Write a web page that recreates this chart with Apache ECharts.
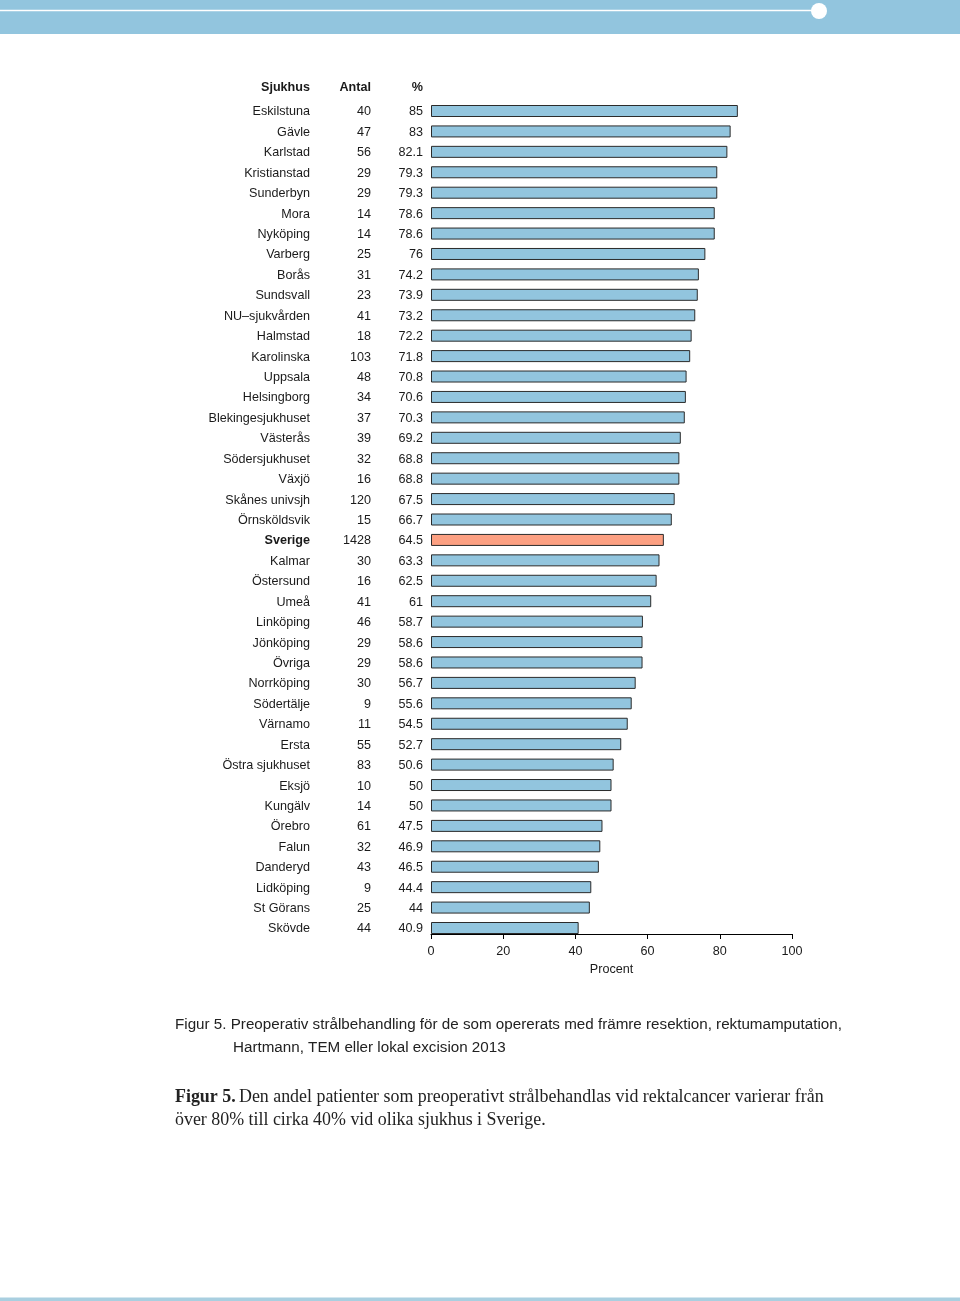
<!DOCTYPE html>
<html>
<head>
<meta charset="utf-8">
<script src="https://cdn.jsdelivr.net/npm/echarts@6/dist/echarts.min.js"></script>
<style>
html,body{margin:0;padding:0;background:#fff;}
#c{width:960px;height:1301px;}
</style>
</head>
<body>
<div id="c"></div>
<script>
const hospitals = ["Eskilstuna","Gävle","Karlstad","Kristianstad","Sunderbyn","Mora","Nyköping","Varberg","Borås","Sundsvall","NU–sjukvården","Halmstad","Karolinska","Uppsala","Helsingborg","Blekingesjukhuset","Västerås","Södersjukhuset","Växjö","Skånes univsjh","Örnsköldsvik","Sverige","Kalmar","Östersund","Umeå","Linköping","Jönköping","Övriga","Norrköping","Södertälje","Värnamo","Ersta","Östra sjukhuset","Eksjö","Kungälv","Örebro","Falun","Danderyd","Lidköping","St Görans","Skövde"];
const antal = [40,47,56,29,29,14,14,25,31,23,41,18,103,48,34,37,39,32,16,120,15,1428,30,16,41,46,29,29,30,9,11,55,83,10,14,61,32,43,9,25,44];
const percent = [85,83,82.1,79.3,79.3,78.6,78.6,76,74.2,73.9,73.2,72.2,71.8,70.8,70.6,70.3,69.2,68.8,68.8,67.5,66.7,64.5,63.3,62.5,61,58.7,58.6,58.6,56.7,55.6,54.5,52.7,50.6,50,50,47.5,46.9,46.5,44.4,44,40.9];
const percentLabels = percent.map(v => String(v));
const xTicks = [0,20,40,60,80,100];
const highlight = "Sverige";

const chart = echarts.init(document.getElementById('c'), null, {renderer:'canvas'});
const FONT = "'Liberation Sans', Arial, sans-serif";
const TXT = '#1a1a1a';
const N = hospitals.length;
const band = (928 - 111) / (N - 1);
const gridTop = 111 - band/2;
const FS = 12.6;

function catAxis(data, margin, boldName){
  return {
    type:'category', data: data, inverse:true, position:'left',
    axisLine:{show:false}, axisTick:{show:false},
    axisLabel:{
      margin: margin, color: TXT, fontFamily: FONT, fontSize: FS, align:'right', interval:0,
      padding:[2,0,0,0],
      formatter: function(v, i){ return (boldName && hospitals[i] === highlight) ? '{b|' + v + '}' : v; },
      rich:{ b:{fontWeight:'bold', fontFamily: FONT, fontSize:FS, color: TXT} }
    }
  };
}

const option = {
  animation:false,
  backgroundColor:'#ffffff',
  grid:{left:431, right:168, top:gridTop, height: band*N, containLabel:false},
  xAxis:{
    type:'value', min:0, max:100, interval:20, offset:-(band/2 - 6),
    axisLine:{show:true, lineStyle:{color:'#000', width:1}},
    axisTick:{show:true, length:5, lineStyle:{color:'#000'}},
    splitLine:{show:false},
    axisLabel:{color:TXT, fontFamily:FONT, fontSize:FS, margin:11,
      formatter: function(v){ return xTicks.indexOf(v) >= 0 ? String(v) : ''; }},
    name:'Procent', nameLocation:'middle', nameGap:27,
    nameTextStyle:{color:TXT, fontFamily:FONT, fontSize:FS}
  },
  yAxis:[
    catAxis(hospitals, 121, true),
    catAxis(antal.map(String), 60, false),
    catAxis(percentLabels, 8, false)
  ],
  series:[{
    type:'bar', yAxisIndex:0, barWidth:12,
    data: percent.map((v,i) => ({
      value:v,
      itemStyle:{color: hospitals[i] === highlight ? '#fca082' : '#92c5de', borderColor:'#2b2b2b', borderWidth:1}
    }))
  }],
  graphic:[
    {type:'rect', shape:{x:0,y:0,width:960,height:34}, style:{fill:'#92c5de'}, silent:true},
    {type:'line', shape:{x1:0,y1:10.5,x2:812,y2:10.5}, style:{stroke:'#ffffff', lineWidth:1.5}},
    {type:'circle', shape:{cx:819, cy:11, r:8}, style:{fill:'#ffffff'}},
    {type:'rect', shape:{x:0,y:1297.5,width:960,height:3.5}, style:{fill:'#a9cfe0'}},
    {type:'text', x:310, y:87.5, style:{text:'Sjukhus', align:'right', verticalAlign:'middle', font:'bold ' + FS + 'px ' + FONT, fill:TXT}},
    {type:'text', x:371, y:87.5, style:{text:'Antal', align:'right', verticalAlign:'middle', font:'bold ' + FS + 'px ' + FONT, fill:TXT}},
    {type:'text', x:423, y:87.5, style:{text:'%', align:'right', verticalAlign:'middle', font:'bold ' + FS + 'px ' + FONT, fill:TXT}},
    {type:'text', x:175, y:1025, style:{text:'Figur 5. Preoperativ strålbehandling för de som opererats med främre resektion, rektumamputation,', align:'left', verticalAlign:'middle', font:'15.2px ' + FONT, fill:'#222'}},
    {type:'text', x:233, y:1048, style:{text:'Hartmann, TEM eller lokal excision 2013', align:'left', verticalAlign:'middle', font:'15.2px ' + FONT, fill:'#222'}},
    {type:'text', x:175, y:1097, style:{
      text:'{b|Figur 5.} {r|Den andel patienter som preoperativt strålbehandlas vid rektalcancer varierar från}',
      align:'left', verticalAlign:'middle',
      rich:{ b:{font:"bold 17.9px 'Liberation Serif', serif", fill:'#222'}, r:{font:"17.9px 'Liberation Serif', serif", fill:'#222'} }
    }},
    {type:'text', x:175, y:1120, style:{text:'över 80% till cirka 40% vid olika sjukhus i Sverige.', align:'left', verticalAlign:'middle', font:"17.9px 'Liberation Serif', serif", fill:'#222'}}
  ]
};
chart.setOption(option);
</script>
</body>
</html>
